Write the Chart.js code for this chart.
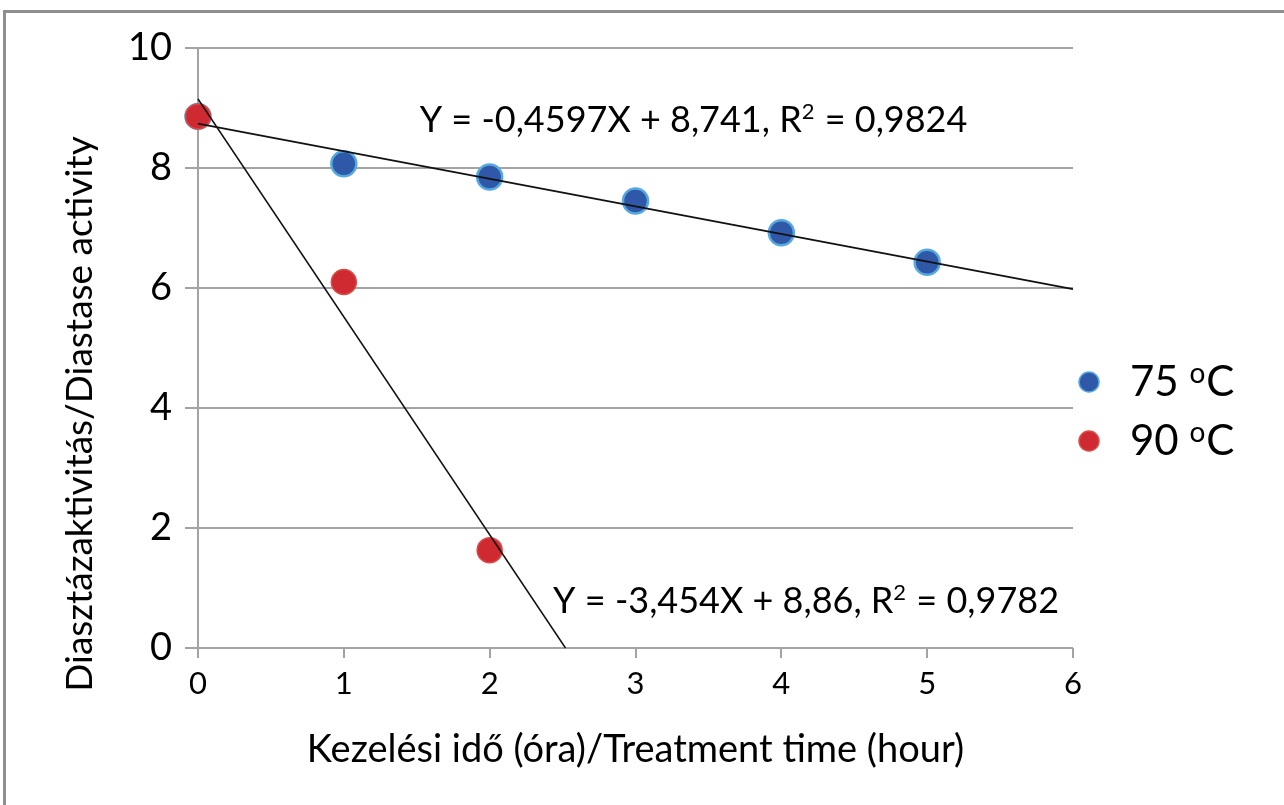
<!DOCTYPE html>
<html><head><meta charset="utf-8">
<script src="https://cdn.jsdelivr.net/npm/chart.js@4.4.1/dist/chart.umd.min.js"></script>
<style>
html,body{margin:0;padding:0;background:#fff;width:1284px;height:805px;overflow:hidden;}
#frame{position:absolute;left:3px;top:10px;width:1300px;height:820px;border-top:3px solid #8f8f8f;border-left:3px solid #8f8f8f;}
#wrap{position:absolute;left:0;top:0;width:1284px;height:805px;}
</style></head><body>
<div id="frame"></div>
<div id="wrap"><canvas id="c" width="1284" height="805"></canvas></div>
<script>
// ---- data ----
const hours75 = [0, 1, 2, 3, 4, 5];
const activity75 = [8.86, 8.07, 7.85, 7.45, 6.92, 6.43];
const hours90 = [0, 1, 2];
const activity90 = [8.86, 6.10, 1.63];
const trendX75 = [0, 6];
const trendY75 = [8.741, 5.983];
const trendX90 = [0, 2.52];
const trendY90 = [9.15, 0];
const xTicks = [0, 1, 2, 3, 4, 5, 6];
const yTicks = [0, 2, 4, 6, 8, 10];
const seriesLabels = ['75 °C', '90 °C'];
const equations = ['Y = -0,4597X + 8,741, R² = 0,9824', 'Y = -3,454X + 8,86, R² = 0,9782'];
const xTitle = 'Kezelési idő (óra)/Treatment time (hour)';
const yTitle = 'Diasztázaktivitás/Diastase activity';

const pts = (xs, ys) => xs.map((x, i) => ({x: x, y: ys[i]}));
const GRID = '#a3a3a3';
const FONT = 'Lato';

// draws text, rendering the given marker character as a raised small glyph
function drawWithSup(ctx, text, mark, supChar, x, y, size, supScale, rise) {
  const parts = text.split(mark);
  parts.forEach((p, i) => {
    ctx.font = size + 'px ' + FONT;
    ctx.fillText(p, x, y);
    x += ctx.measureText(p).width;
    if (i < parts.length - 1) {
      ctx.font = Math.round(size * supScale) + 'px ' + FONT;
      ctx.fillText(supChar, x, y - size * rise);
      x += ctx.measureText(supChar).width + 1;
    }
  });
}

const sideLegend = {
  id: 'sideLegend',
  afterDraw(chart, args, o) {
    const ctx = chart.ctx, ca = chart.chartArea;
    const items = chart.data.datasets.filter(d => d.legendRank !== undefined)
      .sort((a, b) => a.legendRank - b.legendRank);
    items.forEach((d, i) => {
      const cy = ca.top + o.top + i * o.gap;
      const mx = ca.right + o.markerDx;
      ctx.save();
      ctx.beginPath();
      ctx.arc(mx, cy, o.r, 0, Math.PI * 2);
      ctx.fillStyle = d.backgroundColor; ctx.fill();
      ctx.lineWidth = 1.5; ctx.strokeStyle = d.borderColor; ctx.stroke();
      ctx.fillStyle = '#000';
      ctx.textBaseline = 'middle';
      ctx.textAlign = 'left';
      drawWithSup(ctx, d.label, '°', 'o', ca.right + o.textDx, cy, o.size, 0.66, 0.2);
      ctx.restore();
    });
  }
};

const eqLabels = {
  id: 'eqLabels',
  afterDraw(chart, args, o) {
    const ctx = chart.ctx, xs = chart.scales.x, ys = chart.scales.y;
    ctx.save();
    ctx.fillStyle = '#000';
    ctx.textBaseline = 'middle';
    ctx.textAlign = 'left';
    equations.forEach((t, i) => {
      const p = o.at[i];
      drawWithSup(ctx, t, '²', '2', xs.getPixelForValue(p.x), ys.getPixelForValue(p.y), o.size, 0.62, 0.22);
    });
    ctx.restore();
  }
};

const yTitlePlugin = {
  id: 'yTitleText',
  afterDraw(chart, args, o) {
    const ctx = chart.ctx, ca = chart.chartArea;
    ctx.save();
    ctx.translate(o.x, (ca.top + ca.bottom) / 2 + o.dy);
    ctx.rotate(-Math.PI / 2);
    ctx.fillStyle = '#000';
    ctx.font = o.size + 'px ' + FONT;
    ctx.textAlign = 'center';
    ctx.textBaseline = 'middle';
    ctx.fillText(yTitle, 0, 0);
    ctx.restore();
  }
};

new Chart(document.getElementById('c'), {
  type: 'scatter',
  data: {
    datasets: [
      {label: 'trend90', type: 'line', data: pts(trendX90, trendY90), borderColor: '#111', borderWidth: 1.5,
       pointRadius: 0, fill: false, order: -1, clip: false},
      {label: 'trend75', type: 'line', data: pts(trendX75, trendY75), borderColor: '#111', borderWidth: 1.8,
       pointRadius: 0, fill: false, order: -1, clip: false},
      {label: seriesLabels[1], legendRank: 1, data: pts(hours90, activity90), backgroundColor: '#cf2a31', borderColor: '#dc4a45',
       borderWidth: 1.5, pointRadius: 12.5, pointHoverRadius: 12.5, order: 0, clip: false},
      {label: seriesLabels[0], legendRank: 0, data: pts(hours75, activity75), backgroundColor: '#2f58a8', borderColor: '#55a8e0',
       borderWidth: 2.5, pointRadius: 12.5, pointHoverRadius: 12.5, order: 1, clip: false}
    ]
  },
  options: {
    responsive: false,
    animation: false,
    devicePixelRatio: 1,
    events: [],
    layout: {padding: {left: 5, top: 48, right: 211, bottom: 0}},
    plugins: {
      legend: {display: false},
      tooltip: {enabled: false},
      sideLegend: {top: 334, gap: 59, markerDx: 16, textDx: 57, r: 10, size: 42},
      eqLabels: {size: 36, at: [{x: 1.52, y: 8.8}, {x: 2.435, y: 0.78}]},
      yTitleText: {x: 80, dy: 66, size: 37}
    },
    scales: {
      x: {
        type: 'linear', min: 0, max: 6,
        afterBuildTicks: s => { s.ticks = xTicks.map(v => ({value: v})); },
        afterFit: s => { s.height = 157; s.paddingLeft = 0; s.paddingRight = 0; },
        grid: {drawOnChartArea: false, drawTicks: true, tickLength: 10, color: GRID, lineWidth: 2},
        border: {display: false},
        ticks: {font: {family: FONT, size: 31}, color: '#000', padding: 7, maxRotation: 0},
        title: {display: true, text: xTitle, font: {family: FONT, size: 38}, color: '#000', padding: {top: 0, bottom: 32}}
      },
      y: {
        type: 'linear', min: 0, max: 10,
        afterBuildTicks: s => { s.ticks = yTicks.map(v => ({value: v})); },
        afterFit: s => { s.width = 193; s.paddingTop = 0; s.paddingBottom = 0; },
        grid: {drawOnChartArea: true, drawTicks: true, tickLength: 13, color: GRID, lineWidth: 2},
        border: {display: true, color: GRID, width: 2},
        ticks: {font: {family: FONT, size: 38}, color: '#000', padding: 13},
        title: {display: false}
      }
    }
  },
  plugins: [sideLegend, eqLabels, yTitlePlugin]
});
</script>
</body></html>
